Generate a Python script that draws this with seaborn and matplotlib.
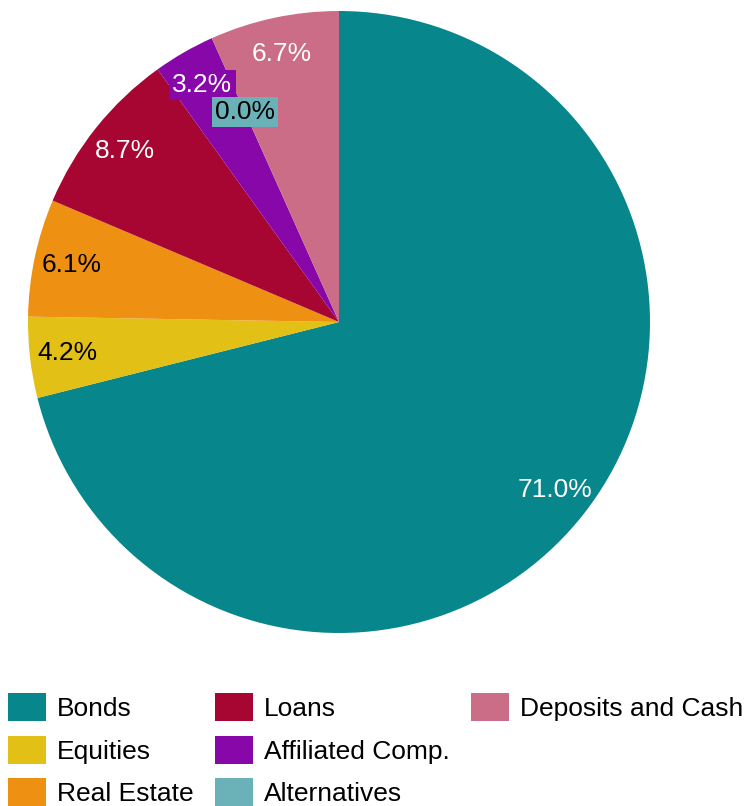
import numpy as np
import seaborn as sns
import matplotlib.pyplot as plt
from matplotlib.patches import Patch

categories = ['Bonds', 'Equities', 'Real Estate', 'Loans', 'Affiliated Comp.',
              'Alternatives', 'Deposits and Cash']
shares = [71.0, 4.2, 6.1, 8.7, 3.2, 0.0, 6.7]
colors = ['#07868C', '#E3C016', '#EE9012', '#A70532', '#8707A8', '#6AB2B8', '#CC6D87']
text_colors = ['white', 'black', 'black', 'white', 'white', 'black', 'white']

sns.set_theme(style='white')
plt.rcParams['font.family'] = ['Liberation Sans', 'DejaVu Sans']
plt.rcParams['text.color'] = 'black'

palette = sns.color_palette(colors)

fig = plt.figure(figsize=(7.48, 8.06), dpi=100)
ax = fig.add_axes([28 / 748, (806 - 633) / 806, 622 / 748, 622 / 806])

wedges, texts = ax.pie(shares, colors=palette, startangle=90, counterclock=False,
                       labels=[f'{v:.1f}%' for v in shares], labeldistance=0.88,
                       wedgeprops=dict(linewidth=0),
                       textprops=dict(fontsize=19, ha='center', va='center'))

for i, t in enumerate(texts):
    t.set_color(text_colors[i])
    # small slices get a backing box so the label stays readable over neighbours
    if shares[i] < 5:
        t.set_bbox(dict(facecolor=colors[i], edgecolor='none', boxstyle='square,pad=0.12'))

# the empty slice label sits further in so it does not cover its neighbour
w = wedges[5]
ang = np.deg2rad((w.theta1 + w.theta2) / 2)
texts[5].set_position((0.74 * np.cos(ang), 0.74 * np.sin(ang)))
texts[5].set_zorder(5)

ax.set_xlim(-1, 1)
ax.set_ylim(-1, 1)
ax.set_aspect('equal')
ax.axis('off')

# pad last column with blanks so it reads 3 / 3 / 1 like the original
handles = list(wedges) + [Patch(visible=False)] * 2
labels = categories + [''] * 2
leg = fig.legend(handles, labels, ncol=3, loc='upper left',
                 bbox_to_anchor=(8 / 748, 1 - 693 / 806), frameon=False,
                 fontsize=19, handlelength=1.44, handleheight=1.25, handletextpad=0.42,
                 columnspacing=0.8, labelspacing=0.56, borderpad=0, borderaxespad=0)
for t in leg.get_texts():
    t.set_color('black')

fig.savefig('out.png', dpi=100)
